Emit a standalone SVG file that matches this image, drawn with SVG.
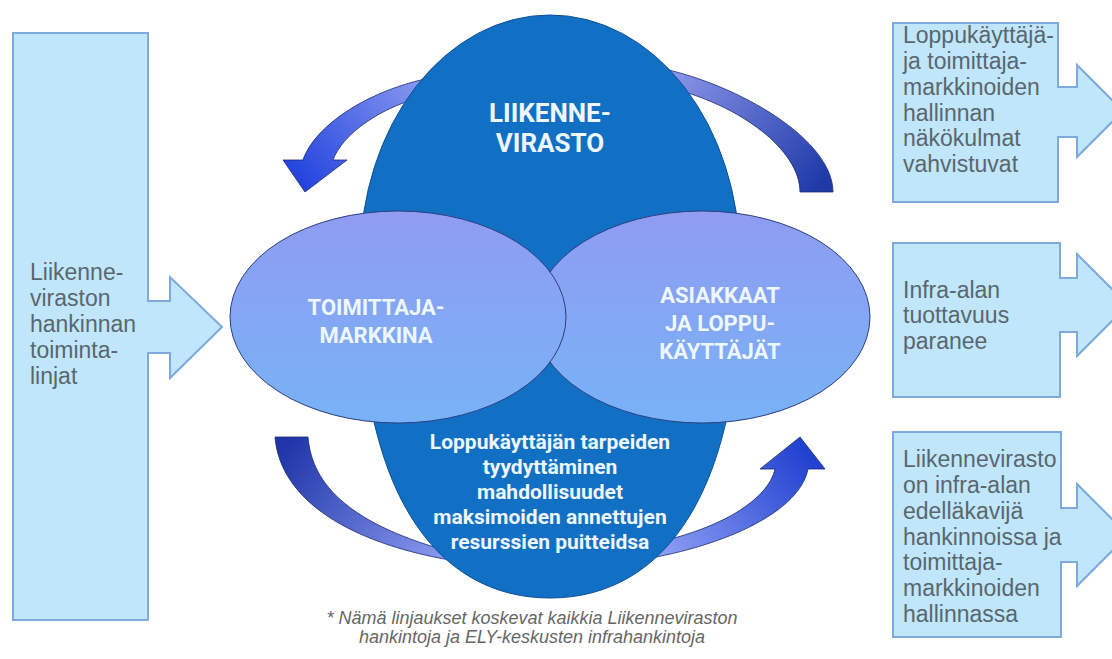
<svg xmlns="http://www.w3.org/2000/svg" width="1112" height="659" viewBox="0 0 1112 659">
<style>
.box{fill:#c0e6fb;stroke:#7ea9dc;stroke-width:2}
.bt{font-family:"Liberation Sans",Arial,sans-serif;font-size:23px;fill:#5a666e}
.arr{stroke:#1a2a70;stroke-width:0.8}
.wt{font-family:Roboto,"Liberation Sans",sans-serif;font-weight:bold;fill:#eef6ff;text-anchor:middle}
.lt{fill:url(#lightG);stroke:#2c3e80;stroke-width:1}
.fn{font-family:"Liberation Sans",Arial,sans-serif;font-style:italic;font-size:18px;fill:#666;text-anchor:middle}
</style>
<defs>
<linearGradient id="gTL" gradientUnits="userSpaceOnUse" x1="430" y1="85" x2="305" y2="190"><stop offset="0" stop-color="#8a9af0"/><stop offset="1" stop-color="#2244dd"/></linearGradient>
<linearGradient id="gTR" gradientUnits="userSpaceOnUse" x1="670" y1="75" x2="816" y2="192"><stop offset="0" stop-color="#8a95e8"/><stop offset="1" stop-color="#1e3aa8"/></linearGradient>
<linearGradient id="gBL" gradientUnits="userSpaceOnUse" x1="290" y1="437" x2="450" y2="557"><stop offset="0" stop-color="#1f35a8"/><stop offset="1" stop-color="#8c9cf0"/></linearGradient>
<linearGradient id="gBR" gradientUnits="userSpaceOnUse" x1="650" y1="555" x2="800" y2="440"><stop offset="0" stop-color="#93a3f5"/><stop offset="1" stop-color="#2040d0"/></linearGradient>
<linearGradient id="lightG" x1="0" y1="0" x2="0" y2="1"><stop offset="0" stop-color="#8f9cf2"/><stop offset="1" stop-color="#78b2f6"/></linearGradient>
</defs>

<g id="left-box">
<path class="box" d="M13,33 H148 V301 H170 V277 L222,327 L170,378 V353 H148 V620 H13 Z"/>
<text class="bt" x="30" y="280">Liikenne-</text>
<text class="bt" x="30" y="306">viraston</text>
<text class="bt" x="30" y="332">hankinnan</text>
<text class="bt" x="30" y="358">toiminta-</text>
<text class="bt" x="30" y="384">linjat</text>
</g>

<g id="connectors">
<path class="arr" fill="url(#gTL)" d="M440,76 C370,88 315,125 303,160 L283,160 L305,192 L347,160 L333,160 C342,135 380,106 430,95 Z"/>
<path class="arr" fill="url(#gTR)" d="M660,68 C740,85 833,140 833,192 L800,192 C800,150 740,105 670,88 Z"/>
<path class="arr" fill="url(#gBL)" d="M275,437 L308,437 C312,485 350,525 455,553 L462,562 C350,545 280,500 275,437 Z"/>
<path class="arr" fill="url(#gBR)" d="M640,560 C730,545 800,510 808,469 L825,469 L800,437 L760,469 L775,469 C768,500 720,530 645,545 Z"/>
</g>

<g id="liikennevirasto">
<path fill="#1270c4" stroke="#0d4f9a" stroke-width="1" d="M360,260 A190,246 0 0 1 550,15 A190,246 0 0 1 740,260 C745,490 665,598 550,598 C435,598 355,490 360,260 Z"/>
<text class="wt" x="550" y="122" font-size="26">LIIKENNE-</text>
<text class="wt" x="550" y="152" font-size="26">VIRASTO</text>
<text class="wt" x="550" y="449" font-size="21">Loppukäyttäjän tarpeiden</text>
<text class="wt" x="550" y="474" font-size="21">tyydyttäminen</text>
<text class="wt" x="550" y="499" font-size="21">mahdollisuudet</text>
<text class="wt" x="550" y="524" font-size="21">maksimoiden annettujen</text>
<text class="wt" x="550" y="549" font-size="21">resurssien puitteidsa</text>
</g>

<g id="asiakkaat">
<ellipse class="lt" cx="702" cy="317" rx="168" ry="106"/>
<text class="wt" x="720" y="303" font-size="22">ASIAKKAAT</text>
<text class="wt" x="720" y="331" font-size="22">JA LOPPU-</text>
<text class="wt" x="720" y="359" font-size="22">KÄYTTÄJÄT</text>
</g>

<g id="toimittajamarkkina">
<ellipse class="lt" cx="398" cy="317" rx="168" ry="106"/>
<text class="wt" x="376" y="315" font-size="22">TOIMITTAJA-</text>
<text class="wt" x="376" y="343" font-size="22">MARKKINA</text>
</g>

<g id="box-1">
<path class="box" d="M893,23 H1058 V87 H1077 V65 L1123,111 L1077,157 V137 H1058 V202 H893 Z"/>
<text class="bt" x="903" y="43">Loppukäyttäjä-</text>
<text class="bt" x="903" y="69">ja toimittaja-</text>
<text class="bt" x="903" y="95">markkinoiden</text>
<text class="bt" x="903" y="121">hallinnan</text>
<text class="bt" x="903" y="146">näkökulmat</text>
<text class="bt" x="903" y="172">vahvistuvat</text>
</g>

<g id="box-2">
<path class="box" d="M893,243 H1060 V278 H1077 V254 L1128,305 L1077,356 V332 H1060 V397 H893 Z"/>
<text class="bt" x="903" y="298">Infra-alan</text>
<text class="bt" x="903" y="323">tuottavuus</text>
<text class="bt" x="903" y="349">paranee</text>
</g>

<g id="box-3">
<path class="box" d="M893,432 H1061 V508 H1077 V484 L1128,535 L1077,586 V562 H1061 V637 H893 Z"/>
<text class="bt" x="903" y="467">Liikennevirasto</text>
<text class="bt" x="903" y="493">on infra-alan</text>
<text class="bt" x="903" y="519">edelläkavijä</text>
<text class="bt" x="903" y="545">hankinnoissa ja</text>
<text class="bt" x="903" y="570">toimittaja-</text>
<text class="bt" x="903" y="596">markkinoiden</text>
<text class="bt" x="903" y="622">hallinnassa</text>
</g>

<g id="footnote">
<text class="fn" x="532" y="624">* Nämä linjaukset koskevat kaikkia Liikenneviraston</text>
<text class="fn" x="532" y="643">hankintoja ja ELY-keskusten infrahankintoja</text>
</g>
</svg>
